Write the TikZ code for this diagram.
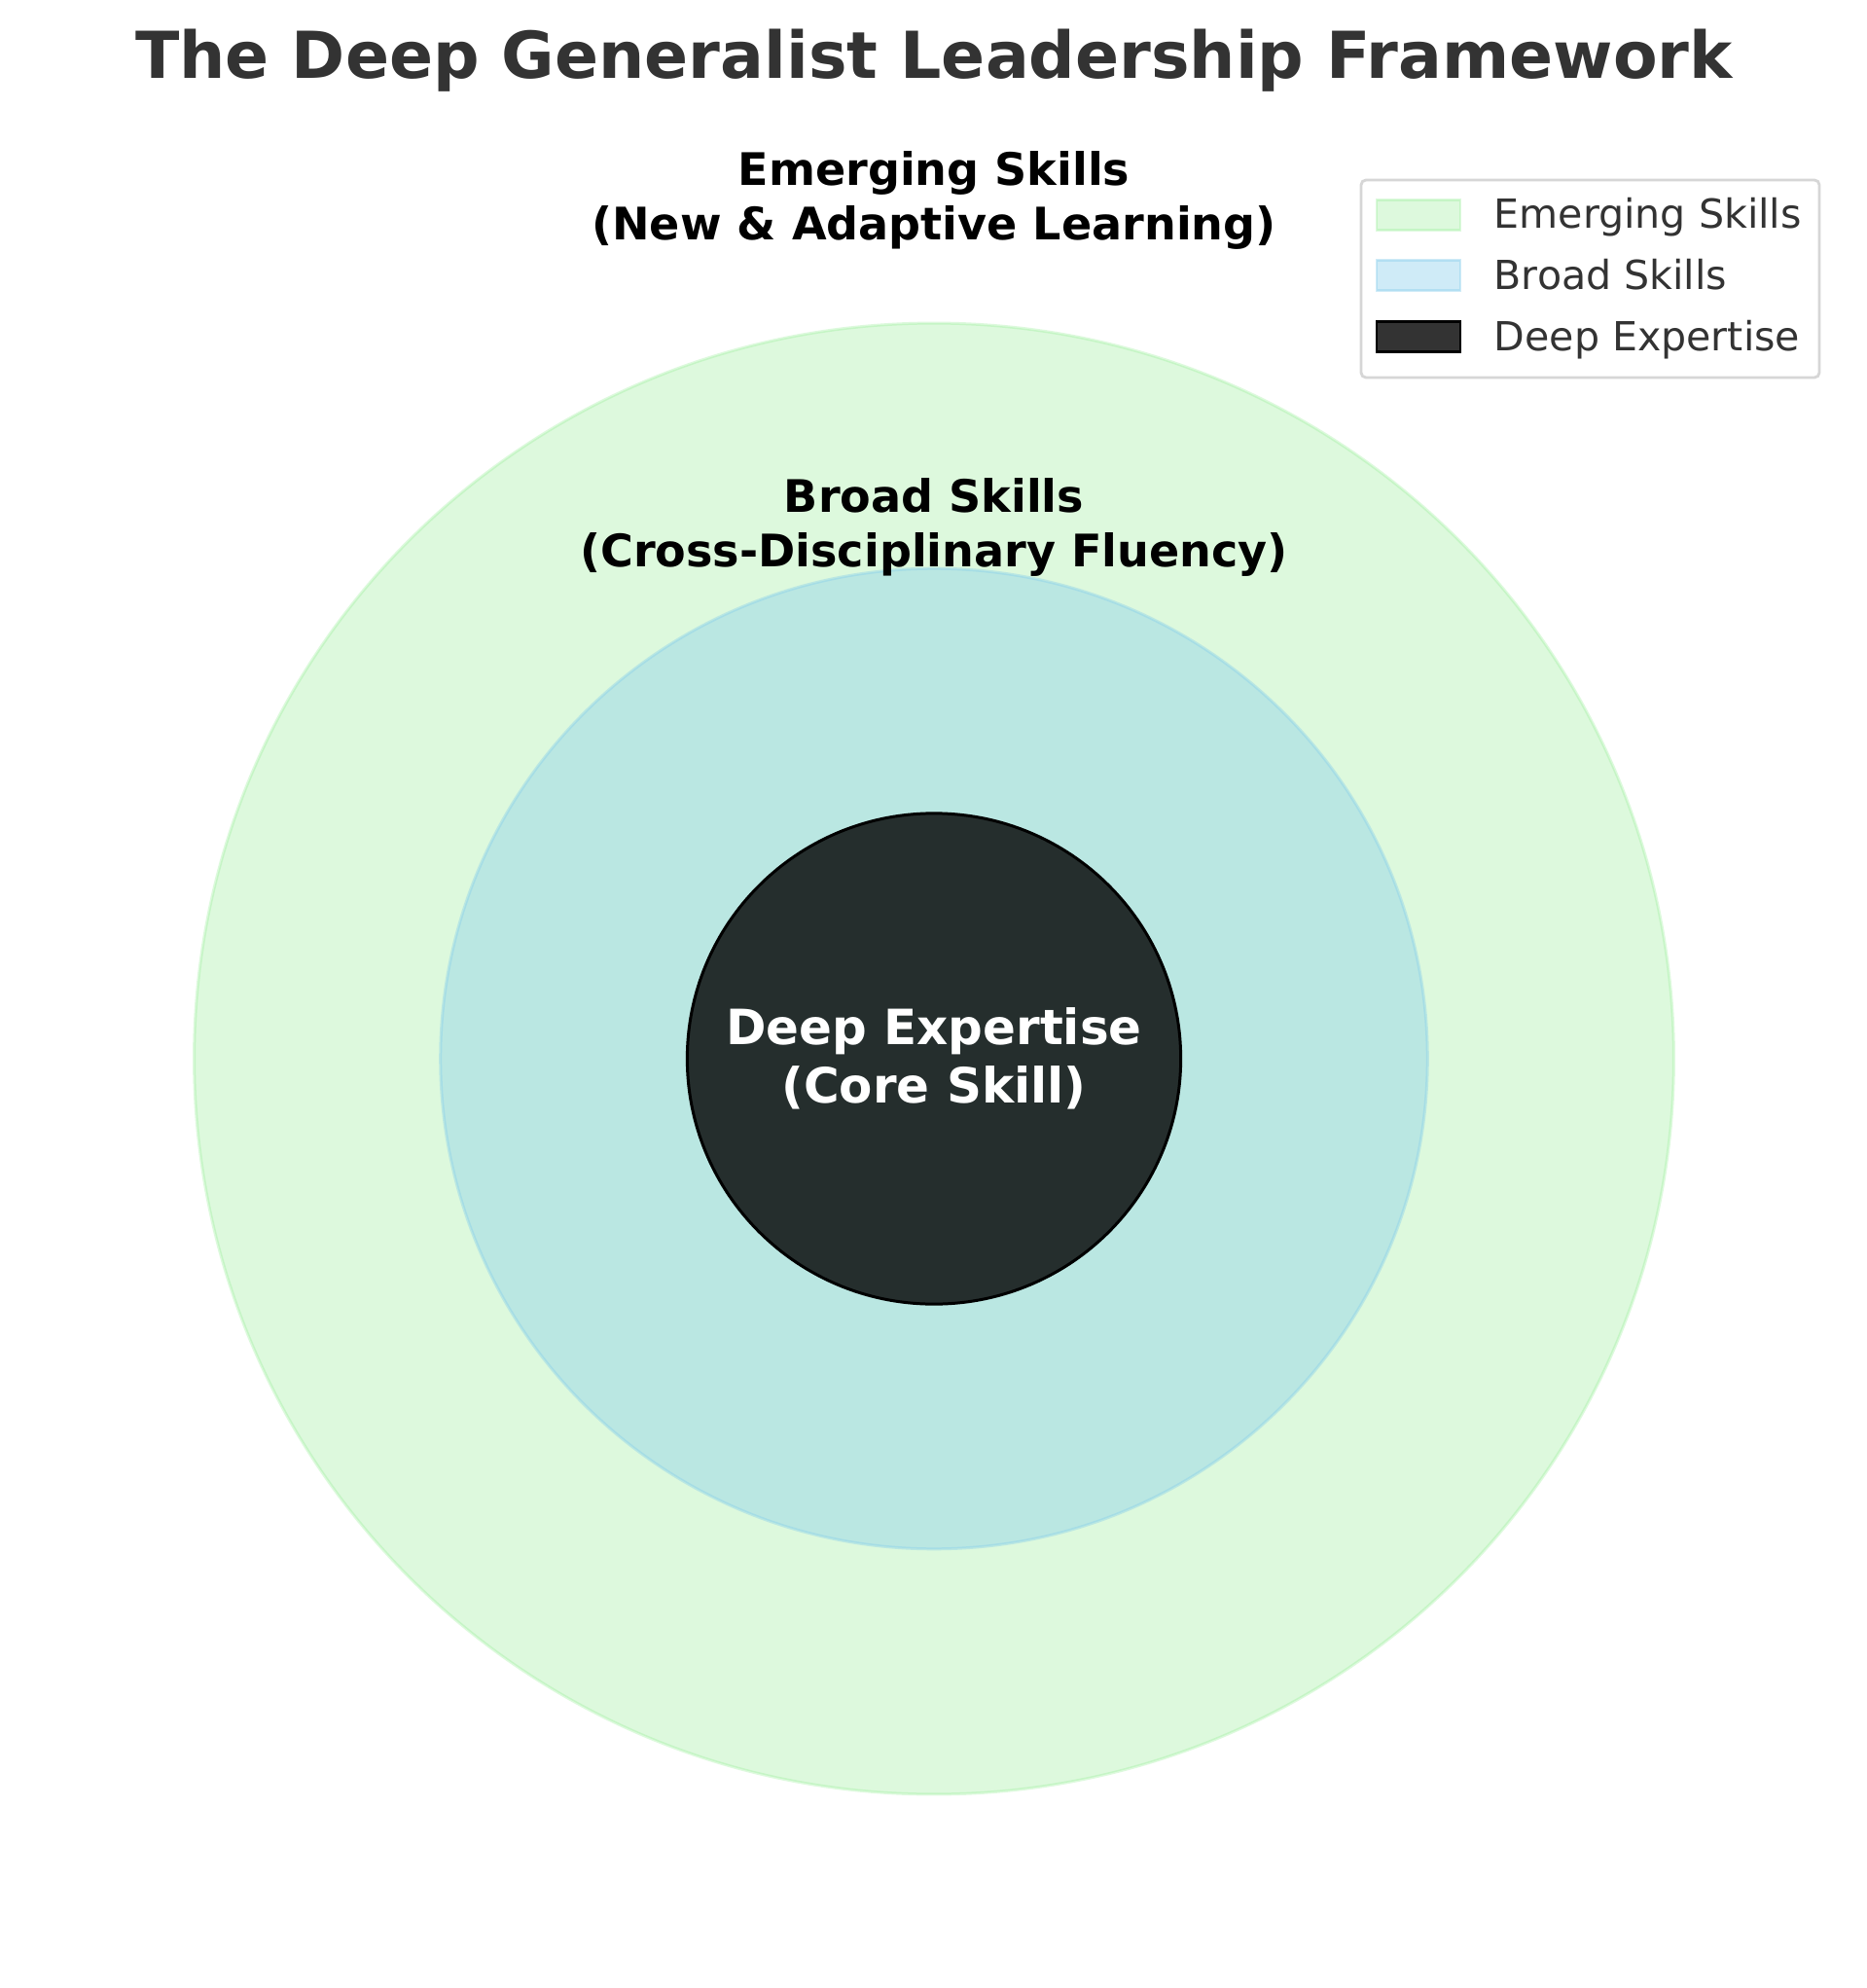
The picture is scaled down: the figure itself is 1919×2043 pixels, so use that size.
\documentclass[tikz,border=0pt]{standalone}
\usepackage{fontspec}
\setmainfont{DejaVu Sans}
\usetikzlibrary{positioning,shapes.geometric}

\definecolor{emergegreen}{HTML}{90EE90}
\definecolor{broadblue}{HTML}{87CEEB}
\definecolor{titlegray}{HTML}{333333}
\definecolor{framegray}{HTML}{CCCCCC}

\tikzset{
  ring/.style={ellipse, inner sep=0pt, outer sep=0pt, line width=0.85pt},
  ringlabel/.style={align=center, font=\bfseries\fontsize{13.1}{15.7}\selectfont},
  legendpatch/.style={minimum width=0.86cm, minimum height=0.31cm, inner sep=0pt, outer sep=0pt, line width=0.8pt},
  legendtext/.style={anchor=base west, inner sep=0pt, text=titlegray, font=\fontsize{11.7}{14}\selectfont}
}

\begin{document}
\begin{tikzpicture}[x=0.01cm,y=-0.01cm]
\useasboundingbox[fill=white] (0,0) rectangle (1919,2043);

% the three rings
\node[ring, minimum width=15.2cm, minimum height=15.11cm, fill=emergegreen, draw=emergegreen, opacity=0.3] (emerging) at (960,1088) {};
\node[ring, minimum width=10.14cm, minimum height=10.07cm, fill=broadblue, draw=broadblue, opacity=0.4] (broad) at (960,1088) {};
\node[ring, minimum width=5.07cm, minimum height=5.04cm, fill=black, draw=black, fill opacity=0.8] (deep) at (960,1088) {};

% labels
\node[font=\bfseries\fontsize{18.9}{22}\selectfont, text=titlegray, anchor=base] (title) at (960,81) {The Deep Generalist Leadership Framework};
\node[ringlabel] (emerginglabel) at (960,206) {Emerging Skills\\(New \& Adaptive Learning)};
\node[ringlabel] (broadlabel) at (960,542) {Broad Skills\\(Cross-Disciplinary Fluency)};
\node[ringlabel, text=white, font=\bfseries\fontsize{14.2}{17}\selectfont] (deeplabel) at (960,1088) {Deep Expertise\\(Core Skill)};

% legend
\draw[framegray, opacity=0.8, line width=0.8pt, rounded corners=0.05cm, fill=white] (1399,185) rectangle (1870,388);
\node[legendpatch, fill=emergegreen, draw=emergegreen, opacity=0.3] (emergingpatch) at (1458,221) {};
\node[legendpatch, fill=broadblue, draw=broadblue, opacity=0.4] (broadpatch) at (1458,283) {};
\node[legendpatch, fill=black, draw=black, fill opacity=0.8] (deeppatch) at (1458,346) {};
\node[legendtext] (emergingtext) at (1535,235) {Emerging Skills};
\node[legendtext] (broadtext) at (1535,298) {Broad Skills};
\node[legendtext] (deeptext) at (1535,361) {Deep Expertise};
\end{tikzpicture}
\end{document}
